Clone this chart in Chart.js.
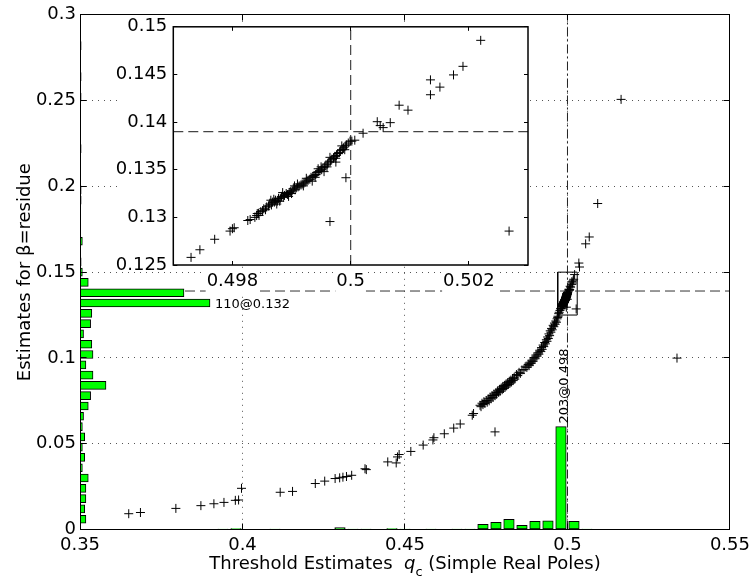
<!DOCTYPE html>
<html><head><meta charset="utf-8">
<script src="https://cdn.jsdelivr.net/npm/chart.js@4/dist/chart.umd.min.js"></script>
<style>
html,body{margin:0;padding:0;background:#fff;overflow:hidden;}
#wrap{position:relative;width:755px;height:582px;}
#main{position:absolute;left:0;top:0;}
#inset{position:absolute;left:100px;top:10px;}
</style></head><body>
<div id="wrap"><canvas id="main" width="755" height="582"></canvas><canvas id="inset" width="440" height="290"></canvas></div>
<script>
// ---------------- data ----------------
const xTicks = [0.35, 0.4, 0.45, 0.5, 0.55];
const yTicks = [0, 0.05, 0.1, 0.15, 0.2, 0.25, 0.3];
const insetXTicks = [0.498, 0.5, 0.502];
const insetYTicks = [0.125, 0.13, 0.135, 0.14, 0.145, 0.15];

const xTitleMain = 'Threshold Estimates';
const xTitleVar = 'q';
const xTitleSub = 'c';
const xTitleTail = ' (Simple Real Poles)';
const yTitle = 'Estimates for \u03B2=residue';

const refQc = 0.5;      // vertical dash-dot reference
const refBeta = 0.139;  // horizontal dashed reference
const zoomBoxX = [0.497, 0.503];
const zoomBoxY = [0.125, 0.15];

// histogram of beta estimates (bin centres, counts)
const betaBins = [0.006,0.012,0.018,0.024,0.030,0.036,0.042,0.048,0.054,0.060,0.066,0.072,0.078,0.084,0.090,0.096,0.102,0.108,0.114,0.120,0.126,0.132,0.138,0.144,0.150,0.156,0.168,0.192,0.198,0.222,0.252,0.264,0.282];
const betaCounts = [5,4,5,5,7,2,4,2,4,2,3,7,9,22,11,5,11,10,3,9,10,110,88,7,2,1,2,1,1,1,1,1,1];
// histogram of q_c estimates
const qcBins = [0.394,0.398,0.410,0.430,0.434,0.438,0.446,0.450,0.458,0.466,0.470,0.474,0.478,0.482,0.486,0.490,0.494,0.498,0.502,0.506];
const qcCounts = [1,2,1,4,1,1,2,1,1,1,1,10,14,20,8,16,17,203,16,1];

// estimates (q_c, beta)
const tailPoints = [[0.3650,0.0092],[0.3686,0.0099],[0.3795,0.0123],[0.3872,0.0139],[0.3912,0.0150],[0.3943,0.0158],[0.3978,0.0170],[0.3988,0.0172],[0.3997,0.0240],[0.4116,0.0217],[0.4154,0.0222],[0.4224,0.0268],[0.4253,0.0282],[0.4285,0.0297],[0.4299,0.0301],[0.4309,0.0305],[0.4320,0.0309],[0.4336,0.0316],[0.4377,0.0354],[0.4381,0.0349],[0.4447,0.0394],[0.4473,0.0388],[0.4477,0.0423],[0.4482,0.0437],[0.4518,0.0455],[0.4556,0.0492],[0.4586,0.0522],[0.4589,0.0535],[0.4621,0.0558],[0.4650,0.0591],[0.4670,0.0615],[0.4707,0.0666],[0.4711,0.0676]];
const bandPoints = [[0.4731,0.0724],[0.4734,0.0716],[0.4737,0.0736],[0.4740,0.0728],[0.4743,0.0745],[0.4746,0.0735],[0.4750,0.0752],[0.4753,0.0742],[0.4756,0.0762],[0.4759,0.0750],
[0.4762,0.0772],[0.4765,0.0762],[0.4768,0.0781],[0.4771,0.0770],[0.4774,0.0790],[0.4777,0.0780],[0.4780,0.0798],[0.4782,0.0788],[0.4785,0.0808],[0.4788,0.0800],[0.4791,0.0817],[0.4793,0.0806],[0.4796,0.0824],[0.4799,0.0815],
[0.4801,0.0834],[0.4803,0.0822],[0.4806,0.0840],[0.4808,0.0829],[0.4811,0.0848],[0.4813,0.0838],[0.4816,0.0856],[0.4818,0.0845],[0.4821,0.0864],[0.4823,0.0853],[0.4826,0.0871],[0.4828,0.0860],[0.4831,0.0879],[0.4833,0.0868],[0.4836,0.0887],[0.4838,0.0877],
[0.4843,0.0903],[0.4847,0.0897],[0.4851,0.0916],[0.4855,0.0910],[0.4860,0.0930],[0.4866,0.0932],[0.4870,0.0948],[0.4875,0.0945],
[0.4879,0.0962],[0.4882,0.0955],[0.4885,0.0975],[0.4888,0.0968],[0.4891,0.0987],[0.4894,0.0980],[0.4897,0.1002],[0.4900,0.0995],[0.4903,0.1017],[0.4906,0.1010],[0.4909,0.1030],[0.4912,0.1022],[0.4915,0.1045],[0.4918,0.1037],
[0.4920,0.1060],[0.4922,0.1050],[0.4925,0.1075],[0.4927,0.1066],[0.4930,0.1090],[0.4932,0.1082],[0.4935,0.1106],[0.4937,0.1097],[0.4939,0.1122],[0.4941,0.1113],[0.4943,0.1140],[0.4945,0.1130],[0.4947,0.1158],[0.4949,0.1150],[0.4951,0.1172],[0.4953,0.1164],[0.4956,0.1190],
[0.4958,0.1182],[0.4960,0.1203],[0.4962,0.1196],[0.4964,0.1215],[0.4966,0.1208],[0.4968,0.1228],[0.4970,0.1236],[0.4971,0.1243]];
const insetSparse = [[0.4973,0.1258],[0.49745,0.1266],[0.4977,0.1277],[0.49796,0.12856],[0.4980,0.12881],[0.49803,0.12891],[0.49826,0.12967],[0.4983,0.12977],[0.49841,0.13019],[0.49844,0.13043]];
const insetBand = [[0.49838,0.1300],[0.49842,0.1304],[0.49845,0.1302],[0.49848,0.1306],[0.49851,0.1307],[0.49853,0.1309],[0.49856,0.1308],[0.49858,0.1311],[0.49861,0.1312],[0.49863,0.1314],[0.49866,0.1313],[0.49868,0.1316],[0.49871,0.1316],[0.49873,0.1318],[0.49876,0.1317],[0.49878,0.1320],[0.49881,0.1320],[0.49883,0.1322],[0.49886,0.1321],[0.49888,0.1323],[0.49891,0.1325],[0.49893,0.1324],[0.49896,0.1326],[0.49898,0.1327],[0.49901,0.1328],[0.49903,0.1330],[0.49906,0.1329],[0.49908,0.1331],[0.49911,0.1332],[0.49913,0.1333],[0.49916,0.1334],[0.49918,0.1335],[0.49921,0.1336],[0.49923,0.1337],[0.49926,0.1338],[0.49928,0.1339],[0.49931,0.1340],[0.49933,0.1342],[0.49936,0.1343],[0.49938,0.1344],[0.49941,0.1345],[0.49943,0.1347],[0.49946,0.1348],[0.49948,0.1349],[0.49951,0.1350],[0.49953,0.1352],[0.49956,0.1353],[0.49958,0.1355],[0.49961,0.1356],[0.49963,0.1358],[0.49966,0.1359],[0.49968,0.1361],[0.49971,0.1362],[0.49973,0.1364],[0.49976,0.1365],[0.49978,0.1367],[0.49981,0.1368],[0.49983,0.1370],[0.49986,0.1371],[0.49988,0.1373],[0.49991,0.1375],[0.49993,0.1376],[0.49996,0.1378],[0.49999,0.1380],[0.50002,0.1380],[0.50007,0.1381],
[0.49880,0.1317],[0.49900,0.1325],[0.49920,0.1333],[0.49940,0.1342],[0.49960,0.1353],[0.49975,0.1362],[0.49990,0.1371],[0.49870,0.1319],[0.49910,0.1335],[0.49950,0.1353],
[0.49865,0.1318],[0.49885,0.1326],[0.49905,0.1333],[0.49925,0.1341],[0.49945,0.1351],[0.49965,0.1363],[0.49985,0.1375],[0.49875,0.1314],[0.49895,0.1322],[0.49935,0.1338],[0.49955,0.1348],[0.49975,0.1358]];
const insetUpper = [[0.50021,0.13883],[0.50045,0.14004],[0.50050,0.13963],[0.50055,0.13942],[0.50067,0.13994],[0.50082,0.14177],[0.50097,0.14125],[0.50135,0.14443],[0.50135,0.14287],[0.50151,0.14367],[0.50174,0.14495],[0.50190,0.14585],[0.50220,0.14858]];
const outlierPoints = [[0.4777,0.0569],[0.5337,0.0999],[0.5035,0.1553],[0.5037,0.1530],[0.5056,0.1665],[0.5067,0.1705],[0.5093,0.1900],[0.5165,0.2507],[0.49965,0.12956],[0.49992,0.13416],[0.50268,0.12856]];

// ---------------- build ----------------
const FONT = "'DejaVu Sans', sans-serif";
const FS = 18;
Chart.defaults.font.family = FONT;
Chart.defaults.color = '#000';
const X_MIN = xTicks[0], X_MAX = xTicks[xTicks.length - 1];
const Y_MIN = yTicks[0], Y_MAX = yTicks[yTicks.length - 1];
const fmt = v => String(parseFloat(Number(v).toFixed(4)));

const allPoints = [].concat(tailPoints, bandPoints, insetSparse, insetBand, insetUpper, outlierPoints).map(p => ({x: p[0], y: p[1]}));
const betaMax = Math.max(...betaCounts), qcMax = Math.max(...qcCounts);
const betaBarData = betaBins.map((c, i) => ({y: c, x: [X_MIN, X_MIN + betaCounts[i] / betaMax * 0.2 * (X_MAX - X_MIN)]}));
const qcBarData = qcBins.map((c, i) => ({x: c, y: qcCounts[i] / qcMax * 0.2 * (Y_MAX - Y_MIN)}));
const betaPeak = betaCounts.indexOf(betaMax), qcPeak = qcCounts.indexOf(qcMax);

const crisp = v => Math.floor(v) + 0.5;

const mainDecor = {
  id: 'mainDecor',
  afterDatasetsDraw(chart) {
    const {ctx, chartArea: a, scales: {x, y}} = chart;
    ctx.save();
    ctx.strokeStyle = '#000';
    ctx.lineWidth = 1;
    const L = crisp(a.left), R = crisp(a.right), T = crisp(a.top), B = crisp(a.bottom);
    ctx.strokeRect(L, T, R - L, B - T);
    ctx.beginPath();
    xTicks.forEach(v => { const p = crisp(x.getPixelForValue(v)); ctx.moveTo(p, B); ctx.lineTo(p, B - 6); ctx.moveTo(p, T); ctx.lineTo(p, T + 6); });
    yTicks.forEach(v => { const p = crisp(y.getPixelForValue(v)); ctx.moveTo(L, p); ctx.lineTo(L + 6, p); ctx.moveTo(R, p); ctx.lineTo(R - 6, p); });
    ctx.stroke();
    // histogram peak annotations
    ctx.fillStyle = '#000';
    ctx.font = `13px ${FONT}`;
    ctx.textAlign = 'left';
    ctx.textBaseline = 'alphabetic';
    const bx = x.getPixelForValue(betaBarData[betaPeak].x[1]) + 5;
    const by = y.getPixelForValue(betaBins[betaPeak]) + 5;
    ctx.fillText(`${betaMax}@${fmt(betaBins[betaPeak])}`, bx, by);
    const qx = x.getPixelForValue(qcBins[qcPeak]) + 7;
    const qy = y.getPixelForValue(qcBarData[qcPeak].y) - 3;
    ctx.save();
    ctx.translate(qx, qy);
    ctx.rotate(-Math.PI / 2);
    ctx.fillText(`${qcMax}@${fmt(qcBins[qcPeak])}`, 0, 0);
    ctx.restore();
    ctx.restore();
  },
  afterDraw(chart) {
    const {ctx, chartArea: a} = chart;
    ctx.save();
    ctx.fillStyle = '#000';
    ctx.font = `${FS}px ${FONT}`;
    ctx.textAlign = 'center';
    ctx.textBaseline = 'alphabetic';
    ctx.save();
    ctx.translate(29.5, (a.top + a.bottom) / 2);
    ctx.rotate(-Math.PI / 2);
    ctx.fillText(yTitle, 0, 0);
    ctx.restore();
    const fN = `${FS}px ${FONT}`, fI = `italic ${FS}px ${FONT}`, fS = `${Math.round(FS * 0.72)}px ${FONT}`;
    const parts = [[xTitleMain + '  ', fN, 0], [xTitleVar, fI, 0], [xTitleSub, fS, 7], [xTitleTail, fN, 0]];
    ctx.textAlign = 'left';
    let total = 0;
    parts.forEach(p => { ctx.font = p[1]; p.push(ctx.measureText(p[0]).width); total += p[3]; });
    let cx = (a.left + a.right) / 2 - total / 2;
    const base = 569;
    parts.forEach(p => { ctx.font = p[1]; ctx.fillText(p[0], cx, base + p[2]); cx += p[3]; });
    ctx.restore();
  }
};

new Chart(document.getElementById('main'), {
  type: 'scatter',
  data: {datasets: [
    {type: 'bar', indexAxis: 'y', data: betaBarData, backgroundColor: '#00ff00', borderColor: '#000', borderWidth: 1, borderSkipped: false, barThickness: 8, grouped: false, order: 0},
    {type: 'bar', data: qcBarData, backgroundColor: '#00ff00', borderColor: '#000', borderWidth: 1, borderSkipped: false, barThickness: 10.5, grouped: false, order: 0},
    {type: 'scatter', data: allPoints, pointStyle: 'cross', pointRadius: 4.5, pointBorderWidth: 1, borderColor: '#000', backgroundColor: '#000', order: 1},
    {type: 'line', data: [{x: X_MIN, y: refBeta}, {x: X_MAX, y: refBeta}], showLine: true, borderColor: '#333', borderWidth: 1, borderDash: [10, 5], pointRadius: 0, fill: false, order: 2},
    {type: 'line', data: [{x: refQc, y: Y_MIN}, {x: refQc, y: Y_MAX}], showLine: true, borderColor: '#222', borderWidth: 1, borderDash: [9, 3, 2, 3], pointRadius: 0, fill: false, order: 2},
    {type: 'line', data: [{x: zoomBoxX[0], y: zoomBoxY[0]}, {x: zoomBoxX[1], y: zoomBoxY[0]}, {x: zoomBoxX[1], y: zoomBoxY[1]}, {x: zoomBoxX[0], y: zoomBoxY[1]}, {x: zoomBoxX[0], y: zoomBoxY[0]}], showLine: true, borderColor: '#000', borderWidth: 1, pointRadius: 0, fill: false, order: 2}
  ]},
  options: {
    responsive: false, animation: false, events: [],
    layout: {padding: {top: 13.5, right: 20, left: 0, bottom: 0}},
    plugins: {legend: {display: false}, tooltip: {enabled: false}},
    scales: {
      x: {type: 'linear', min: X_MIN, max: X_MAX, offset: false, beginAtZero: false,
          afterBuildTicks(s) { s.ticks = xTicks.map(v => ({value: v})); },
          afterFit(s) { s.height = 52.5; },
          grid: {color: '#555', lineWidth: 1, drawTicks: false, offset: false}, border: {display: false, dash: [1, 5]},
          ticks: {autoSkip: false, maxRotation: 0, minRotation: 0, padding: 5, font: {size: FS}, color: '#000', callback: fmt}},
      y: {type: 'linear', min: Y_MIN, max: Y_MAX, offset: false, beginAtZero: false,
          afterBuildTicks(s) { s.ticks = yTicks.map(v => ({value: v})); },
          afterFit(s) { s.width = 80; },
          grid: {color: '#555', lineWidth: 1, drawTicks: false, offset: false}, border: {display: false, dash: [1, 5]},
          ticks: {autoSkip: false, padding: 4, font: {size: FS}, color: '#000', callback: fmt}}
    }
  },
  plugins: [mainDecor]
});

const insetDecor = {
  id: 'insetDecor',
  beforeDraw(chart) {
    const {ctx, chartArea: a} = chart;
    ctx.save();
    ctx.fillStyle = '#fff';
    ctx.fillRect(17, a.top - 3, a.right - 17 + 1, a.bottom - a.top + 4);
    ctx.restore();
  },
  afterDatasetsDraw(chart) {
    const {ctx, chartArea: a, scales: {x, y}} = chart;
    ctx.save();
    ctx.strokeStyle = '#000';
    ctx.lineWidth = 1.5;
    ctx.strokeRect(a.left, a.top, a.right - a.left, a.bottom - a.top);
    ctx.lineWidth = 1;
    ctx.beginPath();
    insetXTicks.forEach(v => { const p = crisp(x.getPixelForValue(v)); ctx.moveTo(p, a.bottom); ctx.lineTo(p, a.bottom - 4); ctx.moveTo(p, a.top); ctx.lineTo(p, a.top + 4); });
    insetYTicks.forEach(v => { const p = crisp(y.getPixelForValue(v)); ctx.moveTo(a.left, p); ctx.lineTo(a.left + 4, p); ctx.moveTo(a.right, p); ctx.lineTo(a.right - 4, p); });
    ctx.stroke();
    ctx.restore();
  }
};

new Chart(document.getElementById('inset'), {
  type: 'scatter',
  data: {datasets: [
    {type: 'scatter', data: allPoints, pointStyle: 'cross', pointRadius: 4.5, pointBorderWidth: 1, borderColor: '#000', backgroundColor: '#000', clip: 0, order: 0},
    {type: 'line', data: [{x: zoomBoxX[0], y: refBeta}, {x: zoomBoxX[1], y: refBeta}], showLine: true, borderColor: '#444', borderWidth: 1.2, borderDash: [10, 5], pointRadius: 0, fill: false, order: 1},
    {type: 'line', data: [{x: refQc, y: zoomBoxY[0]}, {x: refQc, y: zoomBoxY[1]}], showLine: true, borderColor: '#444', borderWidth: 1.2, borderDash: [10, 5], pointRadius: 0, fill: false, order: 1}
  ]},
  options: {
    responsive: false, animation: false, events: [],
    layout: {padding: {top: 14, right: 12, left: 0, bottom: 0}},
    plugins: {legend: {display: false}, tooltip: {enabled: false}},
    scales: {
      x: {type: 'linear', min: zoomBoxX[0], max: zoomBoxX[1], offset: false,
          afterBuildTicks(s) { s.ticks = insetXTicks.map(v => ({value: v})); },
          afterFit(s) { s.height = 35; },
          grid: {display: false, drawTicks: false}, border: {display: false},
          ticks: {autoSkip: false, maxRotation: 0, minRotation: 0, padding: 6, font: {size: FS}, color: '#000', callback: fmt,
                  showLabelBackdrop: true, backdropColor: '#fff', backdropPadding: {top: 3, bottom: 0, left: 1, right: 1}}},
      y: {type: 'linear', min: zoomBoxY[0], max: zoomBoxY[1], offset: false,
          afterBuildTicks(s) { s.ticks = insetYTicks.map(v => ({value: v})); },
          afterFit(s) { s.width = 73.3; },
          grid: {display: false, drawTicks: false}, border: {display: false},
          ticks: {autoSkip: false, padding: 6, font: {size: FS}, color: '#000', callback: fmt}}
    }
  },
  plugins: [insetDecor]
});
</script>
</body></html>
